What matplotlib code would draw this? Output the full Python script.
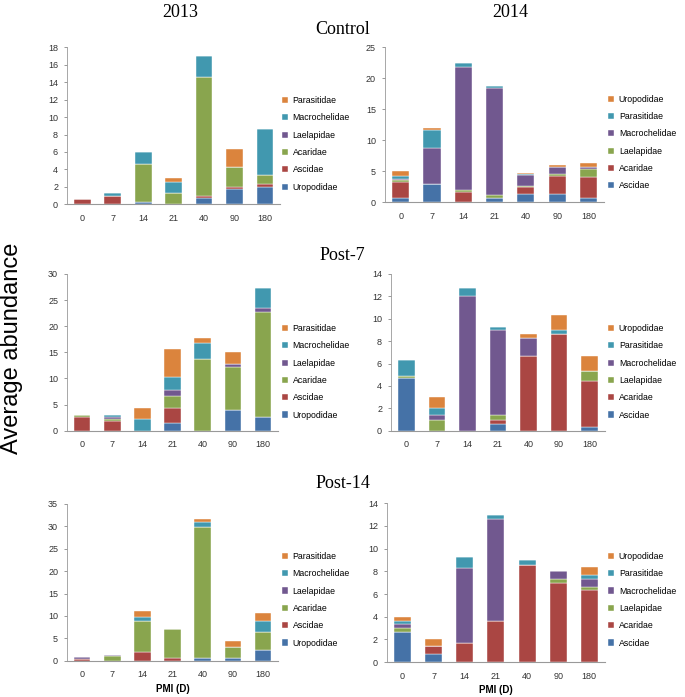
import numpy as np
import matplotlib
matplotlib.use("Agg")
import matplotlib.pyplot as plt

# PMI days
pmi = ["0", "7", "14", "21", "40", "90", "180"]

fam_2013 = ["Uropodidae", "Ascidae", "Acaridae", "Laelapidae", "Macrochelidae", "Parasitidae"]
fam_2014 = ["Ascidae", "Acaridae", "Laelapidae", "Macrochelidae", "Parasitidae", "Uropodidae"]

# Excel 2007 default palette, by series position
colors = ["#4572A7", "#AA4643", "#89A54E", "#71588F", "#4198AF", "#DB843D"]

# values per family (rows, same order as the family list), per PMI (columns)
control_2013 = [
    [0.0, 0.0, 0.3, 0.0, 0.7, 1.7, 2.0],     # Uropodidae
    [0.65, 0.95, 0.0, 0.0, 0.2, 0.25, 0.35],  # Ascidae
    [0.0, 0.0, 4.3, 1.3, 13.7, 2.35, 0.95],  # Acaridae
    [0.0, 0.0, 0.0, 0.0, 0.0, 0.0, 0.0],     # Laelapidae
    [0.0, 0.35, 1.4, 1.3, 2.4, 0.0, 5.35],   # Macrochelidae
    [0.0, 0.0, 0.0, 0.4, 0.0, 2.0, 0.0],     # Parasitidae
]
control_2014 = [
    [0.7, 3.0, 0.0, 0.6, 1.3, 1.3, 0.7],     # Ascidae
    [2.55, 0.0, 1.6, 0.1, 1.1, 3.0, 3.3],    # Acaridae
    [0.4, 0.0, 0.4, 0.4, 0.2, 0.3, 1.4],     # Laelapidae
    [0.1, 5.7, 19.9, 17.3, 1.8, 1.0, 0.2],   # Macrochelidae
    [0.55, 3.0, 0.5, 0.3, 0.1, 0.05, 0.1],   # Parasitidae
    [0.7, 0.3, 0.0, 0.0, 0.2, 0.35, 0.7],    # Uropodidae
]
post7_2013 = [
    [0.0, 0.0, 0.0, 1.4, 0.0, 4.0, 2.7],     # Uropodidae
    [2.7, 1.8, 0.0, 2.9, 0.0, 0.0, 0.0],     # Ascidae
    [0.25, 0.5, 0.0, 2.3, 13.7, 8.1, 20.0],  # Acaridae
    [0.0, 0.35, 0.0, 1.1, 0.0, 0.7, 0.7],    # Laelapidae
    [0.0, 0.3, 2.3, 2.6, 3.1, 0.0, 3.9],     # Macrochelidae
    [0.0, 0.0, 2.0, 5.4, 0.9, 2.2, 0.0],     # Parasitidae
]
post7_2014 = [
    [4.7, 0.0, 0.0, 0.6, 0.0, 0.0, 0.3],     # Ascidae
    [0.0, 0.0, 0.0, 0.4, 6.7, 8.6, 4.1],     # Acaridae
    [0.2, 1.0, 0.0, 0.4, 0.0, 0.0, 0.9],     # Laelapidae
    [0.0, 0.4, 12.0, 7.6, 1.6, 0.0, 0.0],    # Macrochelidae
    [1.4, 0.6, 0.7, 0.3, 0.0, 0.4, 0.0],     # Parasitidae
    [0.0, 1.0, 0.0, 0.0, 0.3, 1.3, 1.4],     # Uropodidae
]
post14_2013 = [
    [0.0, 0.0, 0.0, 0.0, 0.7, 0.7, 2.3],     # Uropodidae
    [0.5, 0.0, 1.85, 0.7, 0.0, 0.0, 0.0],    # Ascidae
    [0.0, 1.1, 7.05, 6.3, 29.1, 2.35, 4.1],  # Acaridae
    [0.25, 0.25, 0.0, 0.0, 0.0, 0.0, 0.0],   # Laelapidae
    [0.0, 0.0, 0.9, 0.0, 1.25, 0.0, 2.5],    # Macrochelidae
    [0.0, 0.0, 1.3, 0.0, 0.55, 1.25, 1.7],   # Parasitidae
]
post14_2014 = [
    [2.7, 0.7, 0.0, 0.0, 0.0, 0.0, 0.0],     # Ascidae
    [0.0, 0.7, 1.65, 3.6, 8.6, 7.0, 6.35],   # Acaridae
    [0.35, 0.0, 0.0, 0.0, 0.0, 0.3, 0.25],   # Laelapidae
    [0.35, 0.0, 6.65, 9.0, 0.0, 0.7, 0.7],   # Macrochelidae
    [0.25, 0.0, 1.0, 0.35, 0.4, 0.0, 0.35],  # Parasitidae
    [0.35, 0.6, 0.0, 0.0, 0.0, 0.0, 0.7],    # Uropodidae
]

panels = [
    # data, families, ymax, ystep, [left, bottom, width, height], show x labels, xlabel
    (control_2013, fam_2013, 18, 2, [0.098, 0.707, 0.311, 0.225], True, False),
    (control_2014, fam_2014, 25, 5, [0.562, 0.710, 0.320, 0.222], True, False),
    (post7_2013, fam_2013, 30, 5, [0.098, 0.382, 0.308, 0.225], True, False),
    (post7_2014, fam_2014, 14, 2, [0.571, 0.382, 0.312, 0.225], True, False),
    (post14_2013, fam_2013, 35, 5, [0.098, 0.052, 0.308, 0.225], True, True),
    (post14_2014, fam_2014, 14, 2, [0.565, 0.050, 0.318, 0.228], True, True),
]
legend_pos = [(0.412, 0.725), (0.888, 0.727), (0.412, 0.398), (0.888, 0.398), (0.412, 0.071), (0.888, 0.071)]

plt.rcParams['font.family'] = ['Liberation Sans', 'DejaVu Sans']
fig = plt.figure(figsize=(6.85, 6.97), dpi=100)

x = np.arange(len(pmi))
for (data, fams, ymax, ystep, rect, showx, xlab), lpos in zip(panels, legend_pos):
    ax = fig.add_axes(rect)
    bottom = np.zeros(len(pmi))
    handles = []
    for vals, fam, col in zip(data, fams, colors):
        vals = np.array(vals)
        h = ax.bar(x, vals, 0.55, bottom=bottom, color=col, label=fam,
                   edgecolor='white', linewidth=0.3)
        handles.append(h)
        bottom += vals
    ax.set_xlim(-0.5, len(pmi) - 0.5)
    ax.set_ylim(0, ymax)
    ax.set_yticks(np.arange(0, ymax + 0.1, ystep))
    ax.set_xticks(x)
    ax.set_xticklabels(pmi if showx else [])
    ax.tick_params(axis='y', labelsize=6.5, length=2.5, width=0.6, colors='#888888',
                   labelcolor='#333333', pad=4)
    ax.tick_params(axis='x', labelsize=6.5, length=0, labelcolor='#333333', pad=7)
    for s in ['top', 'right']:
        ax.spines[s].set_visible(False)
    ax.spines['left'].set_color('#999999')
    ax.spines['bottom'].set_color('#999999')
    ax.spines['left'].set_linewidth(0.6)
    ax.spines['bottom'].set_linewidth(0.8)
    if xlab:
        ax.set_xlabel('PMI (D)', fontsize=7, fontweight='bold', labelpad=3)
    fig.legend(handles[::-1], fams[::-1], loc='lower left', bbox_to_anchor=lpos,
               frameon=False, fontsize=6.3, handlelength=0.7, handleheight=0.7,
               handletextpad=0.5, labelspacing=0.95, borderaxespad=0, borderpad=0)

serif = ['Liberation Serif', 'DejaVu Serif']
fig.text(0.263, 0.982, '2013', ha='center', va='center', fontsize=13, family=serif)
fig.text(0.745, 0.982, '2014', ha='center', va='center', fontsize=13, family=serif)
fig.text(0.500, 0.957, 'Control', ha='center', va='center', fontsize=13, family=serif)
fig.text(0.500, 0.634, 'Post-7', ha='center', va='center', fontsize=13, family=serif)
fig.text(0.500, 0.306, 'Post-14', ha='center', va='center', fontsize=13, family=serif)
fig.text(0.017, 0.50, 'Average abundance', rotation=90, ha='center', va='center', fontsize=17)

fig.savefig('out.png', dpi=100)
